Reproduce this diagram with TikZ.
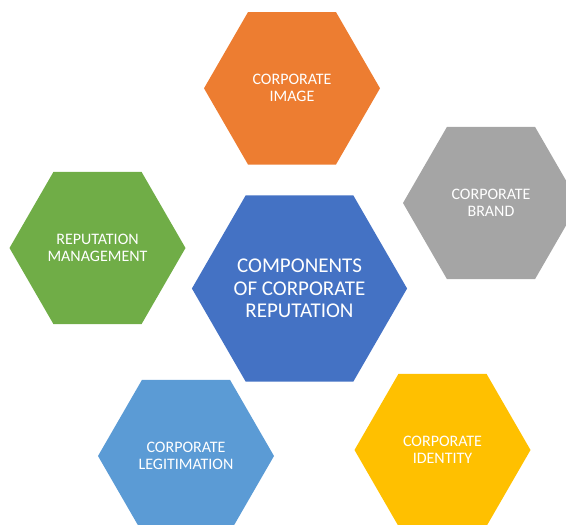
\documentclass[tikz,border=0pt]{standalone}
\usepackage{fontspec}
\setmainfont{Carlito}
\usetikzlibrary{shapes.geometric}

\definecolor{repblue}{HTML}{4472C4}
\definecolor{imgorange}{HTML}{ED7D31}
\definecolor{brandgray}{HTML}{A5A5A5}
\definecolor{mgmtgreen}{HTML}{70AD47}
\definecolor{legitblue}{HTML}{5B9BD5}
\definecolor{identyellow}{HTML}{FFC000}

\begin{document}
\begin{tikzpicture}[x=1pt, y=-1pt,
    hexa/.style={regular polygon, regular polygon sides=6, minimum size=176pt,
        inner sep=0pt, text=white, align=center, font=\fontsize{16}{17}\selectfont},
    hexbig/.style={hexa, minimum size=214pt, font=\fontsize{21}{22.5}\selectfont}]
    \useasboundingbox (0,0) rectangle (566,525);
    \clip (0,0) rectangle (566,525);

    % Centre
    \node (reputation) [hexbig, fill=repblue] at (299.5,288.5) {COMPONENTS\\OF CORPORATE\\REPUTATION};

    % Surrounding components
    \node (image) [hexa, fill=imgorange] at (292,88.3) {CORPORATE\\IMAGE};
    \node (brand) [hexa, fill=brandgray] at (491,203) {CORPORATE\\BRAND};
    \node (management) [hexa, fill=mgmtgreen] at (97.5,248) {REPUTATION\\MANAGEMENT};
    \node (legitimation) [hexa, fill=legitblue] at (186,456) {CORPORATE\\LEGITIMATION};
    \node (identity) [hexa, fill=identyellow] at (442.5,450) {CORPORATE\\IDENTITY};
\end{tikzpicture}
\end{document}
